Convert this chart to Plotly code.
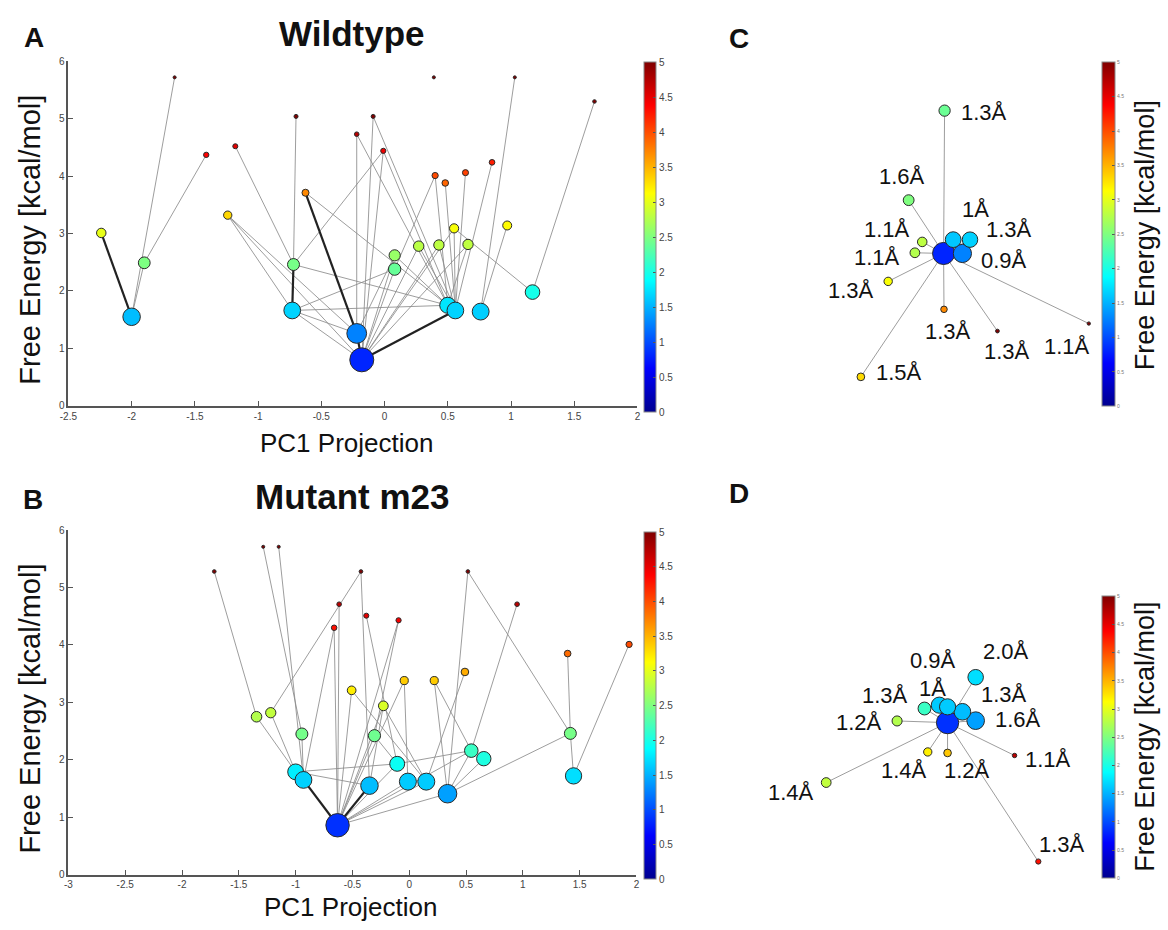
import numpy as np
import plotly.graph_objects as go

W, H = 1168, 930

# ---------------- Panel A: Wildtype free-energy network ----------------
wt_pc1 = [-2.24, -2.00, -1.90, -1.66, -1.41, -1.24, -1.18, -0.73, -0.72, -0.70,
          -0.625, -0.22, -0.22, -0.18, -0.09, -0.01, 0.08, 0.08, 0.27, 0.39,
          0.40, 0.43, 0.48, 0.50, 0.55, 0.56, 0.64, 0.66, 0.76, 0.85,
          0.97, 1.03, 1.17, 1.66]
wt_energy = [3.01, 1.55, 2.49, 5.72, 4.37, 3.32, 4.52, 1.66, 2.46, 5.04,
             3.71, 4.73, 1.26, 0.80, 5.04, 4.44, 2.62, 2.38, 2.78, 5.72,
             4.01, 2.80, 3.88, 1.75, 3.09, 1.66, 4.06, 2.81, 1.64, 4.24,
             3.14, 5.72, 1.98, 5.30]
wt_edges = [(3, 1), (2, 1), (4, 2), (6, 8), (9, 8), (5, 7), (5, 12), (5, 13),
            (10, 23), (8, 15), (8, 23), (7, 23), (7, 17), (7, 12), (7, 13),
            (11, 12), (11, 23), (14, 13), (14, 25), (15, 23), (15, 13),
            (13, 16), (13, 17), (13, 18), (13, 21), (13, 24), (20, 17), (20, 23),
            (22, 25), (26, 25), (29, 25), (24, 25), (24, 32), (18, 25), (21, 25),
            (27, 23), (16, 23), (27, 13), (28, 31), (28, 30), (32, 33), (12, 16)]
wt_strong_edges = [(0, 1), (8, 7), (13, 12), (13, 25), (10, 12)]

# ---------------- Panel B: Mutant m23 free-energy network ----------------
m23_pc1 = [-1.716, -1.285, -1.149, -1.344, -1.219, -0.945, -1.000, -0.931, -0.661, -0.617,
           -0.631, -0.507, -0.425, -0.378, -0.350, -0.306, -0.228, -0.106, -0.094, -0.044,
           -0.012, 0.150, 0.220, 0.337, 0.490, 0.516, 0.546, 0.656, 0.949, 1.394,
           1.418, 1.446, 1.935]
m23_energy = [5.28, 5.71, 5.71, 2.75, 2.82, 2.45, 1.79, 1.65, 4.30, 4.71,
              0.86, 3.21, 5.28, 4.51, 1.55, 2.42, 2.94, 1.93, 4.43, 3.38,
              1.62, 1.62, 3.38, 1.41, 3.53, 5.28, 2.16, 2.02, 4.71, 3.85,
              2.46, 1.72, 4.01]
m23_edges = [(0, 3), (1, 5), (2, 7), (3, 6), (4, 6), (4, 12), (5, 7), (8, 7), (9, 10),
             (12, 14), (6, 17), (6, 14), (10, 11), (10, 8), (10, 17), (10, 20), (10, 21),
             (10, 23), (10, 26), (10, 15), (10, 16), (10, 19), (11, 21), (13, 17),
             (18, 15), (18, 10), (19, 20), (22, 26), (22, 23), (24, 21), (25, 23),
             (25, 30), (28, 26), (29, 30), (30, 31), (32, 31), (30, 23), (26, 17),
             (26, 23), (16, 14), (16, 21), (15, 17), (27, 23)]
m23_strong_edges = [(7, 10), (14, 10)]

# ---------------- Panel C: Wildtype cluster network with RMSD labels ----------------
wt_net_x = [1.443, 1.633, 1.540, 1.710, 1.453, 1.090, 1.227, 1.153, 0.883, 1.447, 1.987, 2.910, 0.607]
wt_net_y = [1.493, 1.493, 1.633, 1.633, 2.940, 2.033, 1.610, 1.500, 1.210, 0.927, 0.707, 0.783, 0.243]
wt_net_energy = [0.80, 1.26, 1.60, 1.65, 2.40, 2.50, 2.80, 2.75, 3.10, 3.70, 5.00, 5.30, 3.30]
wt_net_rmsd = ["", "0.9Å", "1Å", "1.3Å", "1.3Å", "1.6Å", "1.1Å", "1.1Å", "1.3Å", "1.3Å", "1.3Å", "1.1Å", "1.5Å"]
wt_net_edges = [(0, i) for i in range(1, 13)]

# ---------------- Panel D: Mutant cluster network with RMSD labels ----------------
m23_net_x = [1.883, 2.167, 2.167, 2.033, 1.800, 1.883, 1.650, 1.373, 1.683, 1.883, 2.560, 0.657, 2.800]
m23_net_y = [1.540, 2.000, 1.560, 1.650, 1.717, 1.700, 1.683, 1.557, 1.243, 1.233, 1.207, 0.933, 0.133]
m23_net_energy = [0.86, 1.72, 1.41, 1.55, 1.62, 1.62, 2.16, 2.75, 3.20, 3.40, 4.71, 2.82, 4.30]
m23_net_rmsd = ["", "2.0Å", "1.6Å", "1.3Å", "0.9Å", "1Å", "1.3Å", "1.2Å", "1.4Å", "1.2Å", "1.1Å", "1.4Å", "1.3Å"]
m23_net_edges = [(0, i) for i in range(1, 13)]

# ---------------- Tick labels ----------------
a_xticks = [-2.5, -2, -1.5, -1, -0.5, 0, 0.5, 1, 1.5, 2]
a_xticklabels = ["-2.5", "-2", "-1.5", "-1", "-0.5", "0", "0.5", "1", "1.5", "2"]
b_xticks = [-3, -2.5, -2, -1.5, -1, -0.5, 0, 0.5, 1, 1.5, 2]
b_xticklabels = ["-3", "-2.5", "-2", "-1.5", "-1", "-0.5", "0", "0.5", "1", "1.5", "2"]
y_ticks = [0, 1, 2, 3, 4, 5, 6]
cbar_ticks = [0, 0.5, 1, 1.5, 2, 2.5, 3, 3.5, 4, 4.5, 5]

# ---------------- Styles ----------------
FONT = "Liberation Sans, Arial, Helvetica, sans-serif"
JET = [[0.0, "rgb(0,0,143)"], [0.125, "rgb(0,0,255)"], [0.375, "rgb(0,255,255)"],
       [0.625, "rgb(255,255,0)"], [0.875, "rgb(255,0,0)"], [1.0, "rgb(128,0,0)"]]
AX_COLOR = "#555555"


def px_x(p):
    return p / W


def px_y(p):
    return 1 - p / H


def node_size(energy, scale=1.0):
    e = np.asarray(energy, dtype=float)
    return scale * 24 * np.exp(-0.42 * (e - 0.8))


def edge_xy(xs, ys, edges):
    ex, ey = [], []
    for i, j in edges:
        ex += [xs[i], xs[j], None]
        ey += [ys[i], ys[j], None]
    return ex, ey


fig = go.Figure()


def add_network(xs, ys, energy, edges, strong, ax, coloraxis, scale=1.0):
    xa, ya = ("x" + ax, "y" + ax) if ax else ("x", "y")
    ex, ey = edge_xy(xs, ys, edges)
    fig.add_trace(go.Scatter(x=ex, y=ey, mode="lines", xaxis=xa, yaxis=ya,
                             line=dict(color="rgba(140,140,140,0.85)", width=1),
                             hoverinfo="skip", showlegend=False, cliponaxis=False))
    if strong:
        sx, sy = edge_xy(xs, ys, strong)
        fig.add_trace(go.Scatter(x=sx, y=sy, mode="lines", xaxis=xa, yaxis=ya,
                                 line=dict(color="#222222", width=2.2),
                                 hoverinfo="skip", showlegend=False, cliponaxis=False))
    fig.add_trace(go.Scatter(x=xs, y=ys, mode="markers", xaxis=xa, yaxis=ya,
                             marker=dict(size=node_size(energy, scale), color=energy,
                                         coloraxis=coloraxis, opacity=1,
                                         line=dict(color="#2a2a2a", width=1)),
                             showlegend=False, cliponaxis=False))


add_network(wt_pc1, wt_energy, wt_energy, wt_edges, wt_strong_edges, "", "coloraxis")
add_network(m23_pc1, m23_energy, m23_energy, m23_edges, m23_strong_edges, "2", "coloraxis2")
add_network(wt_net_x, wt_net_y, wt_net_energy, wt_net_edges, [], "3", "coloraxis3", 0.92)
add_network(m23_net_x, m23_net_y, m23_net_energy, m23_net_edges, [], "4", "coloraxis4", 0.95)

# ---------------- Axes ----------------
axis_common = dict(showline=True, linecolor=AX_COLOR, linewidth=1.5, ticks="inside",
                   ticklen=5, tickcolor=AX_COLOR, showgrid=False, zeroline=False,
                   tickfont=dict(family=FONT, size=10, color="#444444"), mirror=False)

fig.update_layout(
    xaxis=dict(domain=[px_x(60), px_x(635)], range=[-2.5, 2], tickvals=a_xticks,
               ticktext=a_xticklabels, anchor="y", **axis_common),
    yaxis=dict(domain=[px_y(405), px_y(56)], range=[0, 6], tickvals=y_ticks,
               anchor="x", **axis_common),
    xaxis2=dict(domain=[px_x(60), px_x(634)], range=[-3, 2], tickvals=b_xticks,
                ticktext=b_xticklabels, anchor="y2", **axis_common),
    yaxis2=dict(domain=[px_y(880), px_y(531)], range=[0, 6], tickvals=y_ticks,
                anchor="x2", **axis_common),
    xaxis3=dict(domain=[px_x(800), px_x(1100)], range=[0, 3], visible=False, anchor="y3"),
    yaxis3=dict(domain=[px_y(400), px_y(60)], range=[0, 3.4], visible=False, anchor="x3"),
    xaxis4=dict(domain=[px_x(760), px_x(1100)], range=[0, 3.4], visible=False, anchor="y4"),
    yaxis4=dict(domain=[px_y(880), px_y(600)], range=[0, 2.8], visible=False, anchor="x4"),
)


def cbar(x_left, top, length, thick, font_size, color="#444444"):
    return dict(x=px_x(x_left), xanchor="left", xpad=0, y=px_y(top), yanchor="top", ypad=0,
                len=length, lenmode="pixels", thickness=thick, thicknessmode="pixels",
                tickvals=cbar_ticks, ticks="inside", ticklen=3, tickcolor="#555555",
                tickfont=dict(family=FONT, size=font_size, color=color),
                outlinewidth=1, outlinecolor="#888888")


fig.update_layout(
    coloraxis=dict(colorscale=JET, cmin=0, cmax=5, colorbar=cbar(642, 57, 350, 12, 10)),
    coloraxis2=dict(colorscale=JET, cmin=0, cmax=5, colorbar=cbar(642, 533, 347, 12, 10)),
    coloraxis3=dict(colorscale=JET, cmin=0, cmax=5, colorbar=cbar(1104, 57, 344, 13, 5, "#777777")),
    coloraxis4=dict(colorscale=JET, cmin=0, cmax=5, colorbar=cbar(1104, 598, 282, 13, 5, "#777777")),
)

# ---------------- Text annotations ----------------
ann = []


def txt(text, x, y, size, bold=False, angle=0):
    ann.append(dict(text=f"<b>{text}</b>" if bold else text, x=px_x(x), y=px_y(y),
                    xref="paper", yref="paper", xanchor="center", yanchor="middle",
                    showarrow=False, textangle=angle,
                    font=dict(family=FONT, size=size, color="#111111")))


txt("A", 25, 32, 28, True)
txt("B", 24, 500, 28, True)
txt("C", 738, 33, 28, True)
txt("D", 738, 494, 28, True)
txt("Wildtype", 347, 28, 35, True)
txt("Mutant m23", 347, 497, 35, True)
txt("PC1 Projection", 341, 443, 26)
txt("PC1 Projection", 345, 913, 26)
txt("Free Energy [kcal/mol]", 21, 237, 29, angle=-90)
txt("Free Energy [kcal/mol]", 21, 712, 29, angle=-90)
txt("Free Energy [kcal/mol]", 1148, 232, 27, angle=-90)
txt("Free Energy [kcal/mol]", 1148, 740, 27, angle=-90)

# RMSD label offsets (pixels, right / up)
c_label_shift = [(0, 0), (42, -7), (22, 30), (39, 10), (39, -2), (-7, 24), (-35, 12), (-38, -5),
                 (-37, -9), (4, -22), (10, -20), (-22, -23), (38, 4)]
d_label_shift = [(0, 0), (30, 26), (42, 1), (42, 17), (-6, 45), (-15, 18), (-39, 13), (-38, -2),
                 (-24, -19), (19, -18), (33, -4), (-35, -10), (24, 17)]


def net_labels(xs, ys, labels, shifts, ax):
    for x, y, lab, (dx, dy) in zip(xs, ys, labels, shifts):
        if not lab:
            continue
        ann.append(dict(text=lab, x=x, y=y, xref="x" + ax, yref="y" + ax, xshift=dx, yshift=dy,
                        xanchor="center", yanchor="middle", showarrow=False,
                        font=dict(family=FONT, size=22, color="#111111")))


net_labels(wt_net_x, wt_net_y, wt_net_rmsd, c_label_shift, "3")
net_labels(m23_net_x, m23_net_y, m23_net_rmsd, d_label_shift, "4")

fig.update_layout(annotations=ann, width=W, height=H,
                  margin=dict(l=0, r=0, t=0, b=0),
                  paper_bgcolor="white", plot_bgcolor="white",
                  font=dict(family=FONT), showlegend=False)

fig.write_html("out.html")
